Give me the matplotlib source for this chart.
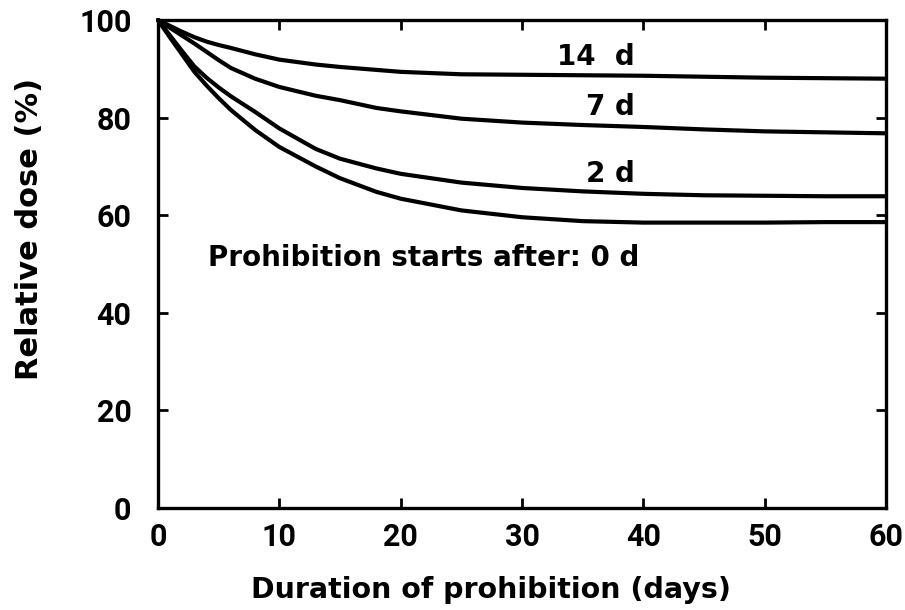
import matplotlib
matplotlib.use('Agg')
import matplotlib.pyplot as plt

plt.rcParams['font.family'] = ['DejaVu Sans']
plt.rcParams['font.weight'] = 'bold'

# days since prohibition began
days = [0, 1, 2, 3, 4, 5, 6, 8, 10, 13, 15, 18, 20, 25, 30, 35, 40, 45, 50, 55, 60]

# relative dose (%) for the different prohibition start times
dose_14d = [100, 98.8, 97.6, 96.5, 95.6, 94.9, 94.3, 93.0, 91.9, 90.9, 90.4, 89.8, 89.4,
            88.9, 88.8, 88.7, 88.6, 88.4, 88.2, 88.1, 88.0]
dose_7d = [100, 98.4, 96.8, 95.2, 93.5, 91.8, 90.2, 88.0, 86.3, 84.5, 83.6, 82.0, 81.3,
           79.8, 79.0, 78.5, 78.1, 77.6, 77.2, 77.0, 76.8]
dose_2d = [100, 96.8, 93.6, 90.5, 88.2, 86.2, 84.4, 81.2, 77.8, 73.6, 71.6, 69.6, 68.5,
           66.7, 65.6, 64.9, 64.4, 64.1, 64.0, 63.9, 63.9]
dose_0d = [100, 96.4, 92.9, 89.4, 86.6, 84.0, 81.6, 77.5, 74.0, 70.0, 67.6, 64.8, 63.4,
           61.0, 59.6, 58.8, 58.5, 58.5, 58.5, 58.6, 58.6]

fig = plt.figure(figsize=(9.05, 6.10), dpi=100)
ax = fig.add_axes([0.1746, 0.1672, 0.8044, 0.7998])

for d in (dose_14d, dose_7d, dose_2d, dose_0d):
    ax.plot(days, d, color='black', lw=3.0, solid_joinstyle='round',
            solid_capstyle='round', clip_on=False)

lab = dict(fontsize=20, fontweight='bold', va='baseline')
ax.text(39.3, 90.8, '14  d', ha='right', **lab)
ax.text(39.3, 80.6, '7 d', ha='right', **lab)
ax.text(39.3, 66.9, '2 d', ha='right', **lab)
ax.text(4.1, 49.6, 'Prohibition starts after: 0 d', ha='left', **lab)

ax.set_xlim(0, 60)
ax.set_ylim(0, 100)
ax.set_xticks([0, 10, 20, 30, 40, 50, 60])
ax.set_yticks([0, 20, 40, 60, 80, 100])
ax.tick_params(direction='in', length=7, width=2, top=True, right=True)
ax.tick_params(axis='x', pad=10)
ax.tick_params(axis='y', pad=19)
for t in ax.get_xticklabels() + ax.get_yticklabels():
    t.set_fontfamily(['Roboto', 'DejaVu Sans'])
    t.set_fontweight('bold')
    t.set_fontsize(22)
for s in ax.spines.values():
    s.set_linewidth(2.4)

ax.set_xlabel('Duration of prohibition (days)', fontsize=20.5, fontweight='bold')
ax.xaxis.set_label_coords(0.457, -0.14)
ax.set_ylabel('Relative dose (%)', fontsize=22, fontweight='bold')
ax.yaxis.set_label_coords(-0.157, 0.573)

fig.savefig('out.png', dpi=100)
